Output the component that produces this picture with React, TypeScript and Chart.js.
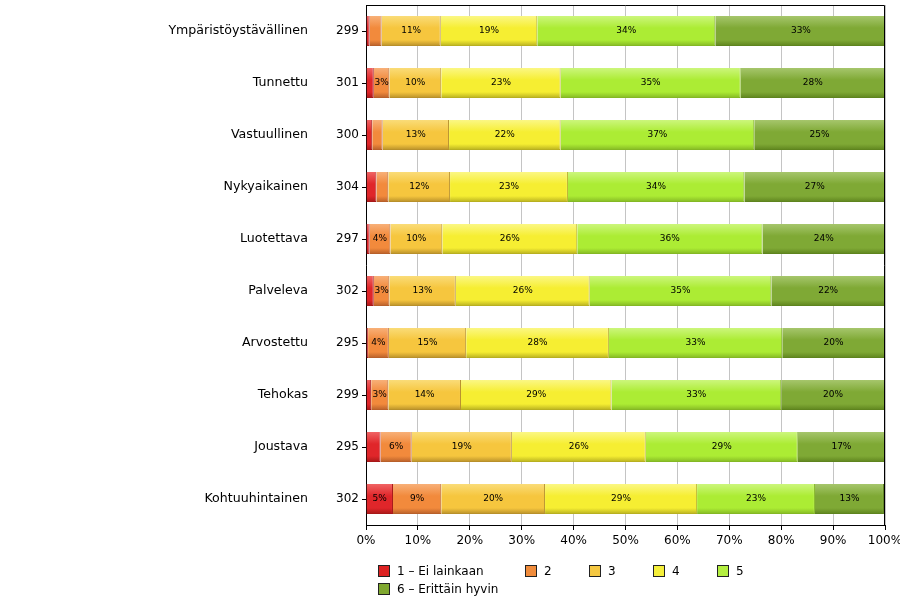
import React, { useEffect, useRef } from "react";
import { Chart, registerables } from "chart.js";

Chart.register(...registerables);

const categories = [
  "Ympäristöystävällinen",
  "Tunnettu",
  "Vastuullinen",
  "Nykyaikainen",
  "Luotettava",
  "Palveleva",
  "Arvostettu",
  "Tehokas",
  "Joustava",
  "Kohtuuhintainen",
];
const counts = ["299", "301", "300", "304", "297", "302", "295", "299", "295", "302"];

const seriesLabels = ["1 – Ei lainkaan", "2", "3", "4", "5", "6 – Erittäin hyvin"];
const s1 = [0.7, 1.5, 1.2, 2.0, 0.7, 1.5, 0.4, 1.0, 2.8, 5.2];
const s2 = [2.3, 3.0, 2.0, 2.3, 4.0, 3.0, 4.0, 3.3, 6.0, 9.3];
const s3 = [11.4, 10.0, 12.8, 11.9, 10.0, 12.8, 14.9, 14.0, 19.3, 20.0];
const s4 = [18.6, 23.0, 21.5, 22.7, 26.0, 25.8, 27.5, 29.0, 25.8, 29.3];
const s5 = [34.3, 34.7, 37.3, 34.0, 35.7, 35.0, 33.4, 32.7, 29.3, 22.7];
const s6 = [33.0, 27.8, 25.2, 27.1, 23.6, 21.9, 19.8, 20.0, 16.8, 13.3];
const seriesValues = [s1, s2, s3, s4, s5, s6];
const xTicks = [0, 10, 20, 30, 40, 50, 60, 70, 80, 90, 100];

const baseColors = ["#e0262a", "#f28a3c", "#f6c63e", "#f6ee32", "#acec34", "#7fa935"];
const lightColors = ["#f06464", "#f8b078", "#fadc78", "#fbf784", "#ccf67c", "#a6c66c"];
const darkColors = ["#a81818", "#b8602a", "#b8902a", "#b8b020", "#84b824", "#5e841e"];
const legendColors = ["#dd2222", "#f08c3c", "#f5c842", "#f5ef3a", "#b4ef40", "#80a830"];

const FONT = "'DejaVu Sans', sans-serif";

const namesPlugin = {
  id: "names",
  afterDraw(chart: any) {
    const ctx = chart.ctx;
    const y = chart.scales.y;
    ctx.save();
    ctx.font = `12.6px ${FONT}`;
    ctx.fillStyle = "#000";
    ctx.textAlign = "right";
    ctx.textBaseline = "middle";
    categories.forEach((c, i) => {
      ctx.fillText(c, 308, y.getPixelForValue(i));
    });
    ctx.restore();
  },
};

const framePlugin = {
  id: "frame",
  afterDraw(chart: any) {
    const { left, top, right, bottom } = chart.chartArea;
    const ctx = chart.ctx;
    ctx.save();
    ctx.strokeStyle = "#000";
    ctx.lineWidth = 1;
    ctx.beginPath();
    ctx.moveTo(Math.round(left) + 0.5, Math.round(top) + 0.5);
    ctx.lineTo(Math.round(right) - 0.5, Math.round(top) + 0.5);
    ctx.lineTo(Math.round(right) - 0.5, Math.round(bottom));
    ctx.stroke();
    ctx.restore();
  },
};

const segLabelPlugin = {
  id: "segLabels",
  afterDatasetsDraw(chart: any) {
    const ctx = chart.ctx;
    ctx.save();
    ctx.font = `9px ${FONT}`;
    ctx.fillStyle = "#000";
    ctx.textAlign = "center";
    ctx.textBaseline = "middle";
    chart.data.datasets.forEach((ds: any, di: number) => {
      const meta = chart.getDatasetMeta(di);
      meta.data.forEach((bar: any, i: number) => {
        const v = ds.data[i];
        if (v < 2.95) return;
        const cx = (bar.x + bar.base) / 2;
        ctx.fillText(Math.round(v) + "%", cx, bar.y);
      });
    });
    ctx.restore();
  },
};

const legendPlugin = {
  id: "customLegend",
  afterDraw(chart: any) {
    const ctx = chart.ctx;
    ctx.save();
    ctx.font = `12px ${FONT}`;
    ctx.textBaseline = "middle";
    ctx.textAlign = "left";
    const positions = [
      [378, 571],
      [525, 571],
      [589, 571],
      [653, 571],
      [717, 571],
      [378, 589],
    ];
    seriesLabels.forEach((lab, i) => {
      const [x, y] = positions[i];
      ctx.fillStyle = legendColors[i];
      ctx.fillRect(x, y - 6, 12, 12);
      ctx.strokeStyle = "#222";
      ctx.lineWidth = 1;
      ctx.strokeRect(x + 0.5, y - 5.5, 11, 11);
      ctx.fillStyle = "#000";
      ctx.fillText(lab, x + 19, y + 1);
    });
    ctx.restore();
  },
};

function makeBg(i: number) {
  return (c: any) => {
    const chart = c.chart;
    const y = chart.scales && chart.scales.y;
    if (c.type !== "data" || !y) return baseColors[i];
    const cy = y.getPixelForValue(c.dataIndex);
    if (!isFinite(cy)) return baseColors[i];
    const g = chart.ctx.createLinearGradient(0, cy - 15, 0, cy + 15);
    g.addColorStop(0, lightColors[i]);
    g.addColorStop(0.4, baseColors[i]);
    g.addColorStop(0.8, baseColors[i]);
    g.addColorStop(1, darkColors[i]);
    return g;
  };
}

export default function App() {
  const ref = useRef<HTMLCanvasElement>(null);
  useEffect(() => {
    if (!ref.current) return;
    const chart = new Chart(ref.current, {
      type: "bar",
      data: {
        labels: categories,
        datasets: seriesValues.map((vals, i) => ({
          label: seriesLabels[i],
          data: vals,
          backgroundColor: makeBg(i),
          borderColor: darkColors[i],
          borderWidth: { top: 0, left: 0, right: 1, bottom: 1 },
          borderSkipped: false,
          barPercentage: 0.58,
          categoryPercentage: 1,
        })),
      },
      options: {
        indexAxis: "y",
        animation: false,
        responsive: false,
        maintainAspectRatio: false,
        layout: { padding: { top: 5, right: 15, left: 0, bottom: 0 } },
        plugins: {
          legend: { display: false },
          tooltip: { enabled: false },
        },
        scales: {
          x: {
            stacked: true,
            min: 0,
            max: 100,
            afterFit: (s: any) => {
              s.height = 75;
              s.paddingLeft = 0;
              s.paddingRight = 0;
            },
            afterBuildTicks: (s: any) => {
              s.ticks = xTicks.map((v) => ({ value: v }));
            },
            ticks: {
              callback: (v: any) => v + "%",
              color: "#000",
              font: { family: FONT, size: 12 },
              padding: 4,
              maxRotation: 0,
            },
            grid: {
              color: "#c4c4c4",
              tickColor: "#000",
              tickLength: 5,
            },
            border: { color: "#000", width: 1 },
          },
          y: {
            stacked: true,
            afterFit: (s: any) => {
              s.width = 366;
              s.paddingTop = 0;
              s.paddingBottom = 0;
            },
            ticks: {
              callback: (_v: any, i: number) => counts[i],
              color: "#000",
              font: { family: FONT, size: 12 },
              padding: 3,
            },
            grid: {
              offset: false,
              drawOnChartArea: false,
              tickColor: "#000",
              tickLength: 4,
            },
            border: { color: "#000", width: 1 },
          },
        },
      },
      plugins: [namesPlugin, segLabelPlugin, legendPlugin, framePlugin],
    } as any);
    return () => chart.destroy();
  }, []);
  return (
    <div style={{ position: "fixed", left: 0, top: 0, width: 900, height: 600, background: "#fff" }}>
      <canvas ref={ref} width={900} height={600} style={{ width: 900, height: 600 }} />
    </div>
  );
}
